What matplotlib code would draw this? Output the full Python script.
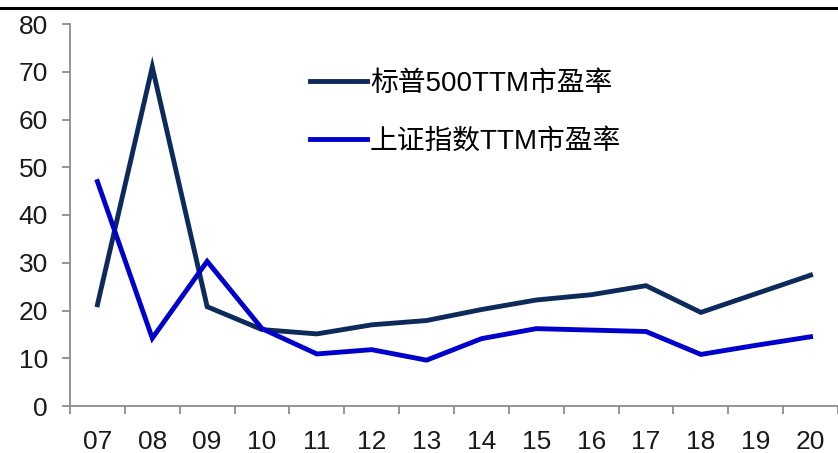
import matplotlib
matplotlib.use("Agg")
import matplotlib.pyplot as plt
from matplotlib.lines import Line2D
import numpy as np

plt.rcParams['font.family'] = ['Liberation Sans', 'Noto Sans CJK SC', 'DejaVu Sans']

years = ["07", "08", "09", "10", "11", "12", "13", "14", "15", "16", "17", "18", "19", "20"]
sp500_pe = [21.2, 71.0, 20.8, 16.0, 15.1, 17.0, 17.9, 20.2, 22.2, 23.3, 25.2, 19.6, 23.5, 27.4]
sse_pe = [47.0, 14.2, 30.3, 16.2, 10.9, 11.8, 9.6, 14.1, 16.2, 15.9, 15.6, 10.8, 12.7, 14.5]
series_labels = ["标普500TTM市盈率", "上证指数TTM市盈率"]
y_ticks = [0, 10, 20, 30, 40, 50, 60, 70, 80]

W, H = 838, 453
fig = plt.figure(figsize=(W / 100, H / 100), dpi=100)
ax = fig.add_axes([70 / W, 47 / H, (W - 70) / W, (406 - 24) / H])

x = np.arange(len(years)) + 0.5
ax.plot(x, sp500_pe, color='#0c2a5a', lw=3.5, solid_joinstyle='miter', label=series_labels[0])
ax.plot(x, sse_pe, color='#0000cd', lw=3.5, solid_joinstyle='miter', label=series_labels[1])

ax.set_xlim(0, len(years))
ax.set_ylim(0, 80)

ax.spines['top'].set_visible(False)
ax.spines['right'].set_visible(False)
for s in ('left', 'bottom'):
    ax.spines[s].set_color('#8c8c8c')
    ax.spines[s].set_linewidth(1.3)

ax.set_yticks(y_ticks)
ax.tick_params(axis='y', length=6, width=1.3, color='#8c8c8c', pad=10,
               labelsize=19, labelcolor='#1a1a1a')

ax.set_xticks(np.arange(len(years) + 1))
ax.set_xticklabels([])
ax.tick_params(axis='x', which='major', length=6, width=1.3, color='#8c8c8c')
ax.set_xticks(x, minor=True)
ax.set_xticklabels(years, minor=True)
ax.tick_params(axis='x', which='minor', length=0, pad=17, labelsize=19,
               labelcolor='#1a1a1a')

ax.legend(loc='upper left', bbox_to_anchor=(229 / (W - 70), (406 - 60) / (406 - 24)),
          frameon=False, fontsize=20, handlelength=2.05, handletextpad=0.1,
          labelspacing=1.15, borderaxespad=0)

fig.add_artist(Line2D([0, 1], [1 - 8 / H, 1 - 8 / H], color='black', lw=2.2,
                      transform=fig.transFigure))

fig.savefig('out.png', dpi=100)
